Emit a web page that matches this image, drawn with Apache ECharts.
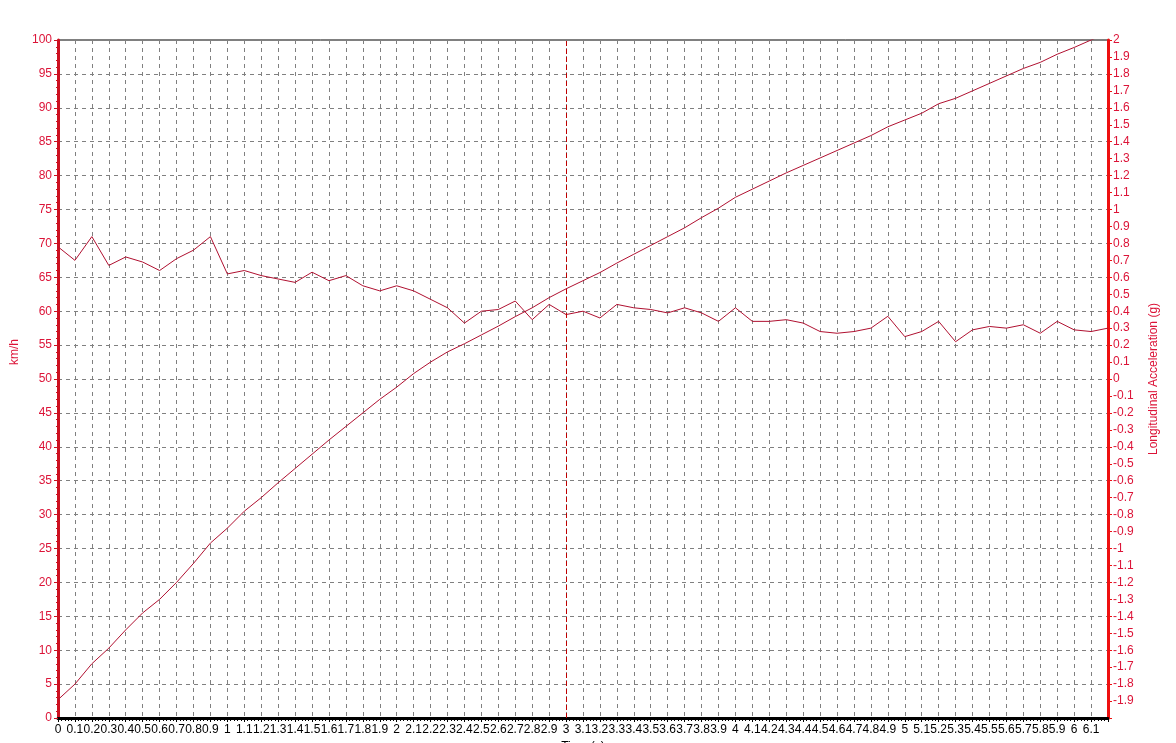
<!DOCTYPE html>
<html>
<head>
<meta charset="utf-8">
<script src="https://cdn.jsdelivr.net/npm/echarts@6/dist/echarts.min.js"></script>
<style>
html,body{margin:0;padding:0;background:#fff;}
#chart{width:1176px;height:743px;}
</style>
</head>
<body>
<div id="chart"></div>
<script>
var times = [0,0.1,0.2,0.3,0.4,0.5,0.6,0.7,0.8,0.9,1,1.1,1.2,1.3,1.4,1.5,1.6,1.7,1.8,1.9,2,2.1,2.2,2.3,2.4,2.5,2.6,2.7,2.8,2.9,3,3.1,3.2,3.3,3.4,3.5,3.6,3.7,3.8,3.9,4,4.1,4.2,4.3,4.4,4.5,4.6,4.7,4.8,4.9,5,5.1,5.2,5.3,5.4,5.5,5.6,5.7,5.8,5.9,6,6.1,6.2];
var speed = [2.7,5.0,8.0,10.3,13.0,15.5,17.5,20.0,22.8,25.8,28.0,30.5,32.5,34.7,36.8,38.9,41.0,43.0,45.0,47.0,48.8,50.8,52.5,54.0,55.2,56.5,57.8,59.2,60.5,62.0,63.3,64.5,65.7,67.1,68.4,69.7,71.0,72.3,73.8,75.2,76.8,78.0,79.2,80.4,81.5,82.6,83.7,84.8,85.9,87.2,88.2,89.2,90.6,91.4,92.5,93.6,94.7,95.8,96.7,97.9,98.9,100.0,101.0];
var accel = [0.78,0.70,0.84,0.67,0.72,0.69,0.64,0.71,0.76,0.84,0.62,0.64,0.61,0.59,0.57,0.63,0.58,0.61,0.55,0.52,0.55,0.52,0.47,0.42,0.33,0.40,0.41,0.46,0.35,0.44,0.38,0.40,0.36,0.44,0.42,0.41,0.39,0.42,0.39,0.34,0.42,0.34,0.34,0.35,0.33,0.28,0.27,0.28,0.30,0.37,0.25,0.28,0.34,0.22,0.29,0.31,0.30,0.32,0.27,0.34,0.29,0.28,0.30];
var cursorTime = 3;
var leftName = 'km/h';
var rightName = 'Longitudinal Acceleration (g)';
var bottomName = 'Time (s)';

var speedData = times.map(function(t,i){return [t, speed[i]];});
var accelData = times.map(function(t,i){return [t, accel[i]];});

var labelRed = '#dc1438';
var font = 'Liberation Sans, Arial, sans-serif';
var chart = echarts.init(document.getElementById('chart'), null, {renderer:'canvas'});
chart.setOption({
  animation: false,
  backgroundColor: '#ffffff',
  grid: {left: 58, right: 68, top: 40, bottom: 25, containLabel: false, outerBoundsMode: 'none', show: true, borderColor: '#000', borderWidth: 1, backgroundColor: 'transparent'},
  xAxis: {
    type: 'value', min: 0, max: 6.2, interval: 0.1,
    name: bottomName, nameLocation: 'middle', nameGap: 21,
    nameTextStyle: {color: '#000', fontFamily: font, fontSize: 12},
    axisLine: {show: true, onZero: false, lineStyle: {color: '#000', width: 3}},
    axisTick: {show: true, length: 4, lineStyle: {color: '#000'}},
    minorTick: {show: true, splitNumber: 5, length: 3, lineStyle: {color: '#000'}},
    axisLabel: {color: '#000', fontFamily: font, fontSize: 12, margin: 6, showMaxLabel: false, hideOverlap: false},
    splitLine: {show: true, lineStyle: {color: '#808080', type: [4,4], width: 1}}
  },
  yAxis: [{
    type: 'value', min: 0, max: 100, interval: 5, position: 'left',
    name: leftName, nameLocation: 'middle', nameGap: 32, nameRotate: 90,
    nameTextStyle: {color: labelRed, fontFamily: font, fontSize: 12, padding: [0,0,0,54]},
    axisLine: {show: true, lineStyle: {color: '#cc1020', width: 3}},
    axisTick: {show: true, length: 4, lineStyle: {color: '#cc1020'}},
    minorTick: {show: true, splitNumber: 5, length: 2, lineStyle: {color: '#cc1020'}},
    axisLabel: {color: labelRed, fontFamily: font, fontSize: 12, margin: 6},
    splitLine: {show: true, lineStyle: {color: '#808080', type: [4,4], width: 1}}
  },{
    type: 'value', min: -2, max: 2, interval: 0.1, position: 'right',
    name: rightName, nameLocation: 'middle', nameGap: 40, nameRotate: 90,
    nameTextStyle: {color: labelRed, fontFamily: font, fontSize: 12},
    axisLine: {show: true, lineStyle: {color: '#ee1010', width: 3}},
    axisTick: {show: true, length: 4, lineStyle: {color: '#ee1010'}},
    minorTick: {show: true, splitNumber: 2, length: 2, lineStyle: {color: '#ee1010'}},
    axisLabel: {color: labelRed, fontFamily: font, fontSize: 12, margin: 5, showMinLabel: false},
    splitLine: {show: false}
  }],
  series: [{
    type: 'line', yAxisIndex: 0, data: speedData, symbol: 'none', clip: true,
    lineStyle: {color: '#b01030', width: 1},
    markLine: {
      silent: true, symbol: 'none', label: {show: false},
      lineStyle: {color: '#c00000', type: [5,3], width: 1},
      data: [{xAxis: cursorTime}]
    }
  },{
    type: 'line', yAxisIndex: 1, data: accelData, symbol: 'none', clip: true,
    lineStyle: {color: '#b01030', width: 1}
  }]
});
</script>
</body>
</html>
